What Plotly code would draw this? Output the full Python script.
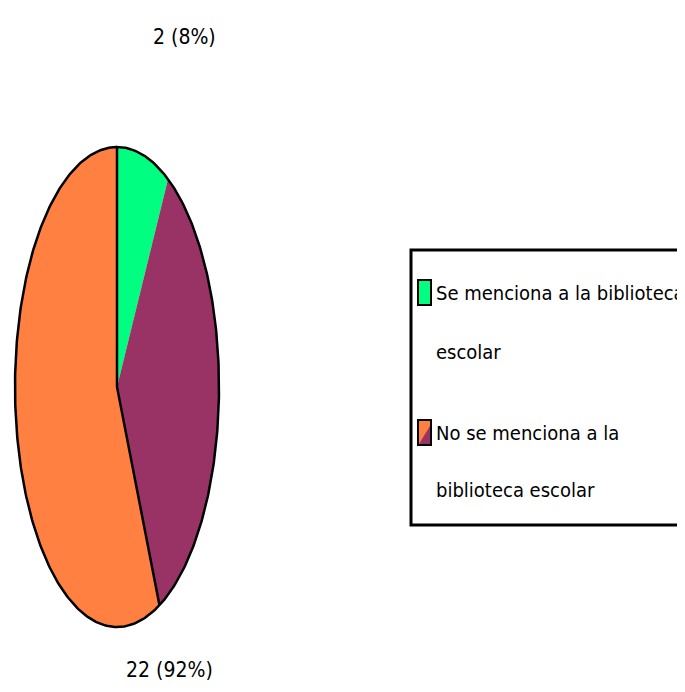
import numpy as np
import plotly.graph_objects as go

# ---- data ----
categories = ["Se menciona a la biblioteca escolar", "No se menciona a la biblioteca escolar"]
values = [2, 22]
line_breaks = [5, 5]  # words on first legend line for each category

# ---- style ----
W, H = 685, 692
OFF = 8                  # page body margin compensation (px)
CX, CY = 117 - OFF, 387 - OFF   # pie centre (px in figure)
RX, RY = 102, 240        # ellipse radii (px)
GREEN = "#00FF80"
PURPLE = "#993366"
ORANGE = "#FF8040"
SPLIT_FRAC = 0.38        # part of the 2nd slice drawn in its darker gradient tone
FONT = "DejaVu Sans Condensed, Liberation Sans Narrow, Arial Narrow, Liberation Sans, Arial"

total = sum(values)
fracs = [v / total for v in values]

# axes mapped so that data unit 1 = radius
x0 = -CX / RX
x1 = x0 + W / RX
y1 = CY / RY
y0 = -(H - CY) / RY


def arc(a0, a1, n=200):
    t = np.radians(np.linspace(a0, a1, n))
    return np.sin(t), np.cos(t)


def wedge(a0, a1):
    x, y = arc(a0, a1)
    return np.concatenate([[0], x, [0]]), np.concatenate([[0], y, [0]])


fig = go.Figure()

a_start = 0.0
a_green_end = fracs[0] * 360
a_split = a_green_end + SPLIT_FRAC * fracs[1] * 360
a_end = 360.0

for (a, b, col) in [(a_start, a_green_end, GREEN),
                    (a_green_end, a_split, PURPLE),
                    (a_split, a_end, ORANGE)]:
    wx, wy = wedge(a, b)
    fig.add_trace(go.Scatter(x=wx, y=wy, fill="toself", fillcolor=col,
                             mode="lines", line=dict(width=0, color=col),
                             hoverinfo="skip", showlegend=False))

# outline: split radial -> centre -> top radial -> full ellipse
ox, oy = arc(0, 360, 400)
sx, sy = np.sin(np.radians(a_split)), np.cos(np.radians(a_split))
fig.add_trace(go.Scatter(x=np.concatenate([[sx, 0], ox]),
                         y=np.concatenate([[sy, 0], oy]),
                         mode="lines", line=dict(color="black", width=2.5),
                         hoverinfo="skip", showlegend=False))


def px(x):
    return (x - OFF) / W


def py(y):
    return 1 - (y - OFF) / H


# data labels
labels = [f"{v} ({round(f * 100)}%)" for v, f in zip(values, fracs)]
for txt, (lx, ly) in zip(labels, [(184, 37), (169, 670)]):
    fig.add_annotation(xref="paper", yref="paper", x=px(lx), y=py(ly), text=txt,
                       showarrow=False, font=dict(family=FONT, size=21, color="black"),
                       xanchor="center", yanchor="middle")

# legend box
fig.add_shape(type="rect", xref="paper", yref="paper",
              x0=px(411), x1=px(710), y0=py(250), y1=py(525),
              line=dict(color="black", width=3), fillcolor="white", layer="below")

# swatches
fig.add_shape(type="rect", xref="paper", yref="paper",
              x0=px(418), x1=px(431), y0=py(280), y1=py(305),
              line=dict(color="black", width=2), fillcolor=GREEN)
fig.add_shape(type="rect", xref="paper", yref="paper",
              x0=px(418), x1=px(431), y0=py(420), y1=py(445),
              line=dict(color="black", width=2), fillcolor=ORANGE)
fig.add_shape(type="path", xref="paper", yref="paper",
              path=f"M {px(419)},{py(444)} L {px(430)},{py(426)} L {px(430)},{py(444)} Z",
              line=dict(width=0), fillcolor=PURPLE)

line_centres = [[293, 352], [433, 490]]
for cat, nb, ys in zip(categories, line_breaks, line_centres):
    words = cat.split()
    lines = [" ".join(words[:nb]), " ".join(words[nb:])]
    for txt, yy in zip(lines, ys):
        fig.add_annotation(xref="paper", yref="paper", x=px(434), y=py(yy),
                           text=txt, showarrow=False, xanchor="left", yanchor="middle",
                           font=dict(family=FONT, size=20, color="black"))

fig.update_layout(
    width=W, height=H, margin=dict(l=0, r=0, t=0, b=0),
    paper_bgcolor="white", plot_bgcolor="white", showlegend=False,
    xaxis=dict(range=[x0, x1], visible=False, fixedrange=True),
    yaxis=dict(range=[y0, y1], visible=False, fixedrange=True),
)

fig.write_html("out.html")
